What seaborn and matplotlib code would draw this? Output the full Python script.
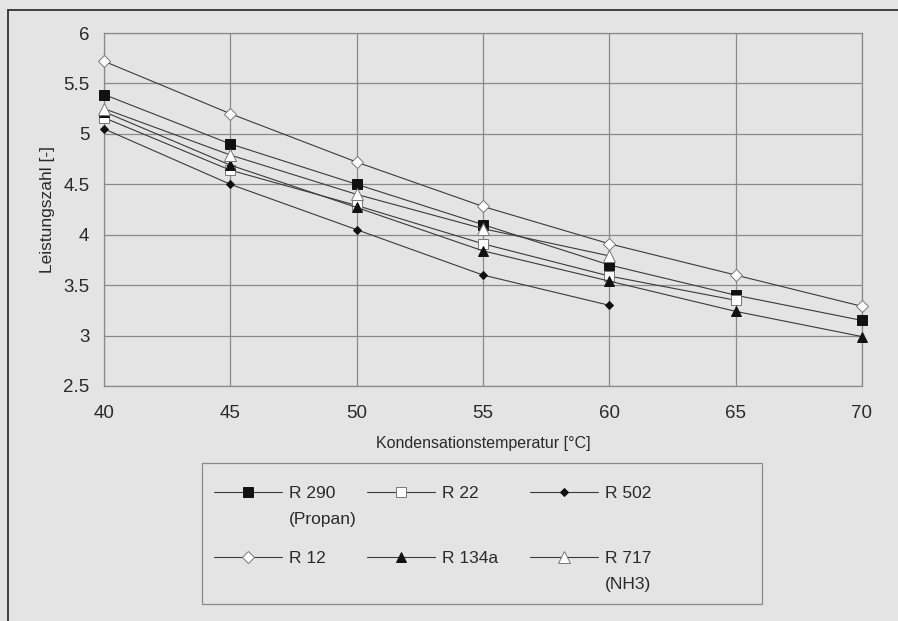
import matplotlib
matplotlib.use("Agg")
import matplotlib.pyplot as plt
import seaborn as sns
from matplotlib.lines import Line2D
from matplotlib.patches import Rectangle

# Leistungszahl ueber Kondensationstemperatur
temps = [40, 45, 50, 55, 60, 65, 70]

r290 = [5.39, 4.90, 4.50, 4.10, 3.70, 3.40, 3.15]
r22 = [5.16, 4.64, 4.29, 3.91, 3.59, 3.35]
r502 = [5.05, 4.50, 4.05, 3.60, 3.30]
r12 = [5.72, 5.20, 4.72, 4.28, 3.91, 3.60, 3.29]
r134a = [5.22, 4.69, 4.27, 3.84, 3.54, 3.24, 2.99]
r717 = [5.25, 4.79, 4.40, 4.06, 3.79]

labels = ["R 290", "R 22", "R 502", "R 12", "R 134a", "R 717"]
sublabels = {"R 290": "(Propan)", "R 717": "(NH3)"}
yticks = [2.5, 3, 3.5, 4, 4.5, 5, 5.5, 6]
xticks = [40, 45, 50, 55, 60, 65, 70]

bg = "#e4e4e4"
txt = "#2a2a2a"
sns.set_style("white")
plt.rcParams["font.family"] = ["Liberation Sans", "DejaVu Sans"]

W, H = 898, 621
fig = plt.figure(figsize=(W / 100, H / 100), dpi=100, facecolor=bg)
ax = fig.add_axes([104 / W, 1 - 386 / H, (862 - 104) / W, (386 - 33) / H])
ax.set_facecolor(bg)

# (values, marker, facecolor, size)
styles = [
    (r290, "s", "#111111", 6.5),
    (r22, "s", "white", 6.5),
    (r502, "D", "#111111", 4.5),
    (r12, "D", "white", 6.5),
    (r134a, "^", "#111111", 7),
    (r717, "^", "white", 8),
]

handles = []
for (vals, m, fc, ms), lab in zip(styles, labels):
    sns.lineplot(x=temps[:len(vals)], y=vals, ax=ax, color="#3a3a3a", linewidth=0.8,
                 marker=m, markersize=ms, markerfacecolor=fc,
                 markeredgecolor="#111111" if fc != "white" else "#777777",
                 markeredgewidth=0.7, label=lab, legend=False, clip_on=False, zorder=3)
    handles.append(ax.lines[-1])

ax.set_xlim(40, 70)
ax.set_ylim(2.5, 6)
ax.set_xticks(xticks)
ax.set_yticks(yticks)
ax.set_yticklabels([f"{v:g}" for v in yticks])
ax.grid(True, color="#8a8a8a", linewidth=0.9)
for s in ax.spines.values():
    s.set_color("#8a8a8a")
    s.set_linewidth(0.9)
ax.tick_params(direction="out", length=3.5, width=0.8, color="#8a8a8a",
               labelsize=13.5, labelcolor=txt)
ax.tick_params(axis="x", pad=10)
ax.tick_params(axis="y", pad=7)

ax.set_xlabel("Kondensationstemperatur [°C]", fontsize=11.5, color=txt, labelpad=10)
ax.set_ylabel("Leistungszahl [-]", fontsize=12.5, color=txt, labelpad=6)

# legend box like the original (3 columns, 2 rows)
fig.add_artist(Rectangle((202 / W, 1 - 604 / H), 560 / W, 141 / H, transform=fig.transFigure,
                         facecolor="none", edgecolor="#8a8a8a", linewidth=0.9))
order = [0, 3, 1, 4, 2, 5]
fs = 12.5
leg = fig.legend([handles[i] for i in order], [labels[i] for i in order],
                 ncol=3, loc="upper left",
                 bbox_to_anchor=(195 / W, 1 - 467 / H, 475 / W, 0.001),
                 mode="expand", fontsize=fs, frameon=False,
                 handlelength=3.9, handletextpad=0.4, borderpad=1.1, borderaxespad=0,
                 labelspacing=2.9)
for t in leg.get_texts():
    t.set_color(txt)

# second label lines under R 290 and R 717
fig.canvas.draw()
inv = fig.transFigure.inverted()
for t in leg.get_texts():
    if t.get_text() in sublabels:
        bb = t.get_window_extent()
        x0, y0 = inv.transform((bb.x0, bb.y0 - 11))
        fig.text(x0, y0, sublabels[t.get_text()], fontsize=fs, color=txt, va="top", ha="left")

# outer frame of the scanned figure
fig.add_artist(Line2D([8 / W, 8 / W], [0, 1 - 10 / H], transform=fig.transFigure,
                      color="#333333", linewidth=1.3))
fig.add_artist(Line2D([8 / W, 1], [1 - 10 / H, 1 - 10 / H], transform=fig.transFigure,
                      color="#333333", linewidth=1.3))

fig.savefig("out.png", dpi=100, facecolor=bg)
